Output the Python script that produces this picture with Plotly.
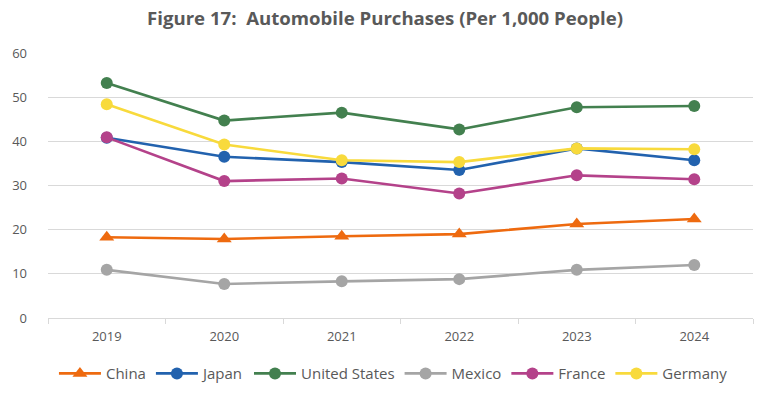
import plotly.graph_objects as go

years = ["2019", "2020", "2021", "2022", "2023", "2024"]
china = [18.3, 17.9, 18.5, 19.0, 21.3, 22.4]
japan = [40.8, 36.5, 35.3, 33.5, 38.4, 35.7]
united_states = [53.2, 44.7, 46.5, 42.7, 47.7, 48.0]
mexico = [10.9, 7.7, 8.3, 8.8, 10.9, 12.0]
france = [40.9, 31.0, 31.6, 28.2, 32.3, 31.4]
germany = [48.4, 39.3, 35.7, 35.3, 38.4, 38.2]

series = [
    ("China", china, "#EE6A0F", "triangle-up"),
    ("Japan", japan, "#2262AE", "circle"),
    ("United States", united_states, "#43804F", "circle"),
    ("Mexico", mexico, "#A5A5A5", "circle"),
    ("France", france, "#B4428A", "circle"),
    ("Germany", germany, "#F8DA3C", "circle"),
]

fig = go.Figure()
for name, vals, color, sym in series:
    fig.add_trace(go.Scatter(
        x=years, y=vals, name=name, mode="lines+markers",
        line=dict(color=color, width=2.6),
        marker=dict(color=color, symbol=sym, size=12 if sym == "circle" else 13),
    ))

fig.update_layout(
    width=770, height=394,
    margin=dict(l=48, r=17, t=53, b=76, autoexpand=False),
    paper_bgcolor="white", plot_bgcolor="white",
    title=dict(text="<b>Figure 17:  Automobile Purchases (Per 1,000 People)</b>",
               x=0.5, xanchor="center", yref="container", y=0.953, yanchor="middle",
               automargin=False,
               font=dict(family="Open Sans", size=18.6, color="#595959")),
    font=dict(family="Open Sans", size=13, color="#595959"),
    showlegend=True,
    legend=dict(orientation="h", x=0.49, xanchor="center", y=-0.21, yanchor="middle",
                font=dict(size=15, color="#595959"), itemwidth=42, tracegroupgap=0),
    xaxis=dict(type="category", range=[-0.5, 5.5], showgrid=False, automargin=False,
               showline=True, linecolor="#D9D9D9", linewidth=1,
               ticks="outside", tickson="boundaries", ticklen=5, tickcolor="#D9D9D9",
               ticklabelstandoff=6,
               tickfont=dict(size=13, color="#595959")),
    yaxis=dict(range=[0, 60], dtick=10, showgrid=True, gridcolor="#D9D9D9", gridwidth=1,
               zeroline=False, showline=False, ticks="", ticklabelstandoff=20,
               automargin=False,
               tickfont=dict(size=13, color="#595959")),
)

fig.write_html("out.html", config={"displayModeBar": False},
               post_script="document.body.style.margin='0';")
